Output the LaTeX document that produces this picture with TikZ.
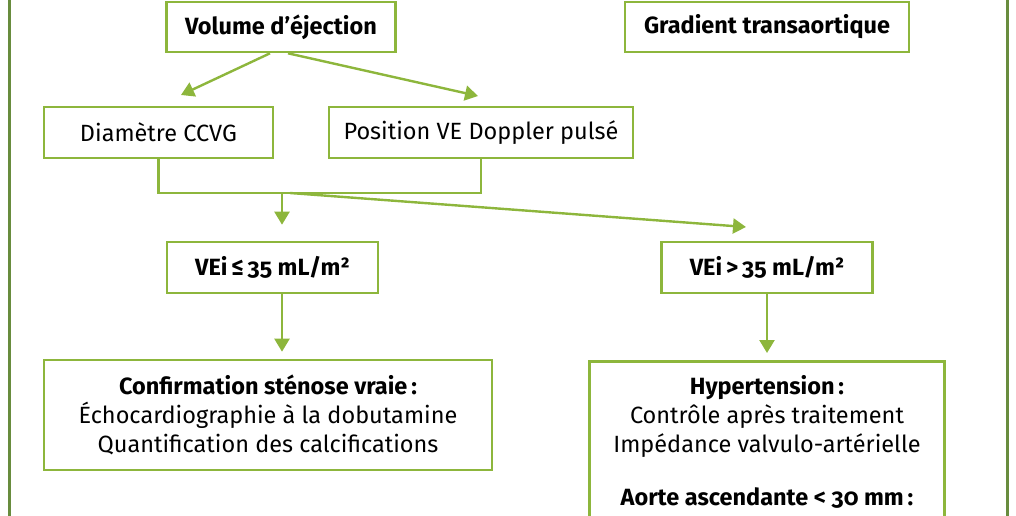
\documentclass[tikz,border=0pt]{standalone}
\usepackage{fontspec}
\setmainfont{Fira Sans}[Numbers=OldStyle]
\usetikzlibrary{arrows.meta}
\definecolor{boxgreen}{RGB}{141,182,60}
\definecolor{framegreen}{RGB}{104,140,62}

\begin{document}
\begin{tikzpicture}[x=1pt,y=-1pt,
   box/.style={draw=boxgreen,line width=2.6pt,fill=white,align=center,inner sep=0pt,
     font=\fontsize{23.5}{29}\selectfont},
   arr/.style={draw=boxgreen,line width=2.4pt,-{Triangle[length=13pt,width=15pt]}}]

\useasboundingbox (0,0) rectangle (1016,516);
\clip (0,0) rectangle (1016,516);
\draw[framegreen,line width=3pt] (9.5,-10) rectangle (1007,540);

\node[box,minimum width=229pt,minimum height=50pt] (vol) at (281,27) {\bfseries Volume d’éjection};
\node[box,minimum width=284pt,minimum height=50pt] (grad) at (767,27) {\bfseries Gradient transaortique};
\node[box,minimum width=229pt,minimum height=51pt] (diam) at (158.5,132.5) {Diamètre CCVG};
\node[box,minimum width=304pt,minimum height=51pt] (pos) at (481,132.5) {Position VE Doppler pulsé};
\node[box,minimum width=211pt,minimum height=51pt] (le) at (272.5,267.5) {\bfseries VEi\,≤\,35 mL/m²};
\node[box,minimum width=211pt,minimum height=51pt] (gt) at (767,267.5) {\bfseries VEi\,>\,35 mL/m²};
\node[box,minimum width=448pt,minimum height=110pt] (conf) at (268,415)
   {{\bfseries Confirmation sténose vraie\,:}\\ Échocardiographie à la dobutamine\\ Quantification des calcifications};
\node[box,minimum width=355pt,inner ysep=14pt,anchor=north] (hyp) at (767,360)
   {{\bfseries Hypertension\,:}\\ Contrôle après traitement\\ Impédance valvulo-artérielle\\[24pt]
    {\bfseries Aorte ascendante < 30 mm\,:}\\ \mbox{}\\ \mbox{}};

\coordinate (tipD) at (181,95);
\coordinate (tipP) at (478,96);
\coordinate (j) at (282,193);
\coordinate (j2) at (290,193);
\coordinate (tipG) at (746,227);

\draw[arr] ([xshift=-11pt]vol.south) -- (tipD);
\draw[arr] ([xshift=7pt]vol.south) -- (tipP);
\draw[boxgreen,line width=2.4pt] (diam.south) |- (j) -| (pos.south);
\draw[arr,shorten >=16pt] (j) -- (le.north -| j);
\draw[arr] (j2) -- (tipG);
\draw[arr,shorten >=7pt] (le.south -| j) -- (conf.north -| j);
\draw[arr,shorten >=7pt] (gt.south) -- (hyp.north);

\end{tikzpicture}
\end{document}
